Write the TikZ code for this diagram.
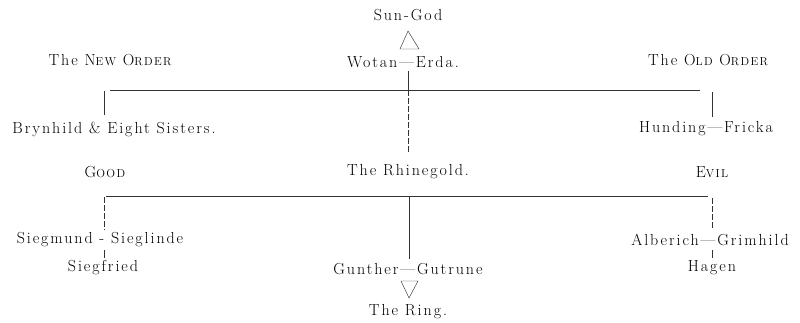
\documentclass[tikz,border=0pt]{standalone}
\usepackage{fontspec}
\setmainfont{Latin Modern Roman}[LetterSpace=12]
\newcommand{\fsc}[2]{#1{\fontsize{11.5}{13}\selectfont #2}}
\begin{document}
\begin{tikzpicture}[x=1pt,y=-1pt,
  lbl/.style={inner sep=0pt, font=\fontsize{16}{18}\selectfont},
  ln/.style={line width=0.6pt, black!80},
  dln/.style={ln, dash pattern=on 6pt off 2pt}]
\useasboundingbox (0,0) rectangle (800,323);
% texts
\node[lbl] (sun) at (408,15) {Sun-God};
\node[lbl] (wotan) at (403,62) {Wotan—Erda.};
\node[lbl] (neworder) at (110,60) {The \fsc{N}{EW} \fsc{O}{RDER}};
\node[lbl] (oldorder) at (708,60) {The \fsc{O}{LD} \fsc{O}{RDER}};
\node[lbl] (brynhild) at (114,129) {Brynhild \& Eight Sisters.};
\node[lbl] (hunding) at (706,129) {Hunding—Fricka};
\node[lbl] (good) at (105,172) {\fsc{G}{OOD}};
\node[lbl] (rhine) at (408,172) {The Rhinegold.};
\node[lbl] (evil) at (712,172) {\fsc{E}{VIL}};
\node[lbl] (siegmund) at (100,240) {Siegmund - Sieglinde};
\node[lbl] (siegfried) at (103,268) {Siegfried};
\node[lbl] (gunther) at (408,269) {Gunther—Gutrune};
\node[lbl] (alberich) at (710,240) {Alberich—Grimhild};
\node[lbl] (hagen) at (712,268) {Hagen};
\node[lbl] (ring) at (408,312) {The Ring.};
% coordinates
\coordinate (wb) at (408,71);
\coordinate (tc) at (408,90);
\coordinate (tce) at (408,152);
\coordinate (tl) at (110,90);
\coordinate (tr) at (700,90);
\coordinate (tlv) at (104,91);
\coordinate (tlb) at (104,115);
\coordinate (trv) at (712,92);
\coordinate (trb) at (712,117);
\coordinate (bl) at (106,196);
\coordinate (br) at (708,196);
\coordinate (blv) at (104,197);
\coordinate (blb) at (104,230);
\coordinate (bls) at (104,250);
\coordinate (blf) at (104,258);
\coordinate (bc) at (409,196);
\coordinate (bcb) at (409,259);
\coordinate (brv) at (712,198);
\coordinate (brb) at (712,229);
\coordinate (bra) at (712,250);
\coordinate (brh) at (712,258);
% connectors
\draw[ln] (wb) -- (tc);
\draw[dln] (tc) -- (tce);
\draw[ln] (tl) -- (tr);
\draw[ln] (tlv) -- (tlb);
\draw[ln] (trv) -- (trb);
\draw[ln] (bl) -- (br);
\draw[dln] (blv) -- (blb);
\draw[ln] (bls) -- (blf);
\draw[ln] (bc) -- (bcb);
\draw[dln] (brv) -- (brb);
\draw[ln] (bra) -- (brh);
% triangles
\draw[ln, line width=0.45pt] (408,31) -- (400,49) -- (419,49) -- cycle;
\draw[ln, line width=0.45pt] (401,281) -- (418,281) -- (409,298) -- cycle;
\end{tikzpicture}
\end{document}
